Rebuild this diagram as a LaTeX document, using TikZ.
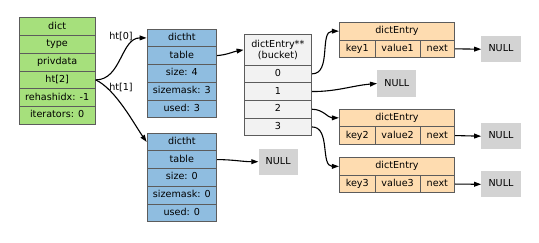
\documentclass[tikz,border=0pt]{standalone}
\usepackage{fontspec}
\setmainfont{DejaVu Sans}
\usetikzlibrary{arrows.meta}
\definecolor{dictgreen}{HTML}{A6E07C}
\definecolor{htblue}{HTML}{8FBDE0}
\definecolor{entryorange}{HTML}{FEDCB0}
\definecolor{bucketgray}{HTML}{F2F2F2}
\definecolor{nullgray}{HTML}{D3D3D3}
\definecolor{bordercol}{HTML}{5C5C5C}
\tikzset{
  cell/.style={draw=bordercol, line width=0.8pt, inner sep=0pt, anchor=center,
    text height=7.2pt, text depth=2pt, font=\fontsize{9.6}{11.5}\selectfont},
  dictcell/.style={cell, fill=dictgreen, minimum width=76.3pt, minimum height=17.77pt},
  htcell/.style={cell, fill=htblue, minimum width=69.7pt, minimum height=17.74pt},
  bucketcell/.style={cell, fill=bucketgray, minimum width=67.7pt, minimum height=17.7pt},
  entrycell/.style={cell, fill=entryorange, minimum height=17.7pt},
  nullbox/.style={fill=nullgray, inner sep=0pt, minimum width=39.3pt, minimum height=26.3pt,
    text height=7.2pt, text depth=2pt, font=\fontsize{9.6}{11.5}\selectfont},
  link/.style={draw=black, line width=1.1pt, -{Triangle[length=7pt,width=4.8pt]}},
  lbl/.style={font=\fontsize{9.6}{11.5}\selectfont, inner sep=0pt}
}
\begin{document}
\begin{tikzpicture}[x=1pt, y=-1pt]
\useasboundingbox (0,0) rectangle (539,243);

% dict structure
\node[dictcell] (dict)  at (57.15,26.6)  {dict};
\node[dictcell] (dtype) at (57.15,44.4)  {type};
\node[dictcell] (dpriv) at (57.15,62.2)  {privdata};
\node[dictcell] (dht)   at (57.15,79.9)  {ht[2]};
\node[dictcell] (drh)   at (57.15,97.7)  {rehashidx: -1};
\node[dictcell] (dit)   at (57.15,115.4) {iterators: 0};

% ht[0]
\node[htcell] (a0) at (181.85,37.9)  {dictht};
\node[htcell] (a1) at (181.85,55.6)  {table};
\node[htcell] (a2) at (181.85,73.3)  {size: 4};
\node[htcell] (a3) at (181.85,91.1)  {sizemask: 3};
\node[htcell] (a4) at (181.85,108.8) {used: 3};

% ht[1]
\node[htcell] (b0) at (181.85,141.9) {dictht};
\node[htcell] (b1) at (181.85,159.6) {table};
\node[htcell] (b2) at (181.85,177.4) {size: 0};
\node[htcell] (b3) at (181.85,195.1) {sizemask: 0};
\node[htcell] (b4) at (181.85,212.8) {used: 0};

% bucket array
\node[bucketcell, minimum height=30.3pt, text height=, text depth=, align=center,
      font=\fontsize{9.6}{11}\selectfont] (bh) at (277.85,49.85) {dictEntry**\\(bucket)};
\node[bucketcell] (k0) at (277.85,73.85)  {0};
\node[bucketcell] (k1) at (277.85,91.55)  {1};
\node[bucketcell] (k2) at (277.85,109.25) {2};
\node[bucketcell] (k3) at (277.85,126.95) {3};

% dict entries
\node[entrycell, minimum width=115.4pt] (e1) at (397,31.15) {dictEntry};
\node[entrycell, minimum width=36pt]    (e1k) at (357.3,48.85)  {key1};
\node[entrycell, minimum width=44.7pt]  (e1v) at (397.65,48.85) {value1};
\node[entrycell, minimum width=34.7pt]  (e1n) at (437.35,48.85) {next};

\node[entrycell, minimum width=115.4pt] (e2) at (397,117.85) {dictEntry};
\node[entrycell, minimum width=36pt]    (e2k) at (357.3,135.55)  {key2};
\node[entrycell, minimum width=44.7pt]  (e2v) at (397.65,135.55) {value2};
\node[entrycell, minimum width=34.7pt]  (e2n) at (437.35,135.55) {next};

\node[entrycell, minimum width=115.4pt] (e3) at (397,166.35) {dictEntry};
\node[entrycell, minimum width=36pt]    (e3k) at (357.3,184.05)  {key3};
\node[entrycell, minimum width=44.7pt]  (e3v) at (397.65,184.05) {value3};
\node[entrycell, minimum width=34.7pt]  (e3n) at (437.35,184.05) {next};

% NULL terminators
\node[nullbox] (n1) at (501,49.2)    {NULL};
\node[nullbox] (nk) at (396.8,83.5)  {NULL};
\node[nullbox] (n2) at (501,136.2)   {NULL};
\node[nullbox] (n3) at (501,184.3)   {NULL};
\node[nullbox] (nt) at (278.2,161.7) {NULL};

% pointers
\draw[link] (dht.east) to[out=0, in=180] (a0.west);
\draw[link] (dht.east) to[out=-25, in=125, looseness=0.7] (b0.west);
\node[lbl] (l0) at (121,36)   {ht[0]};
\node[lbl] (l1) at (121,87.5) {ht[1]};

\draw[link] (a1.east) to[out=5, in=190] (bh.west);
\draw[link] (b1.east) to[out=0, in=180] (nt.west);

\draw[link] (k0.east) to[out=0, in=180] (e1.west);
\draw[link] (k1.east) to[out=0, in=185] (nk.west);
\draw[link] (k2.east) to[out=0, in=180] (e2.west);
\draw[link] (k3.east) to[out=0, in=180] (e3.west);

\draw[link] (e1n.east) -- (n1.west);
\draw[link] (e2n.east) -- (n2.west);
\draw[link] (e3n.east) -- (n3.west);
\end{tikzpicture}
\end{document}
